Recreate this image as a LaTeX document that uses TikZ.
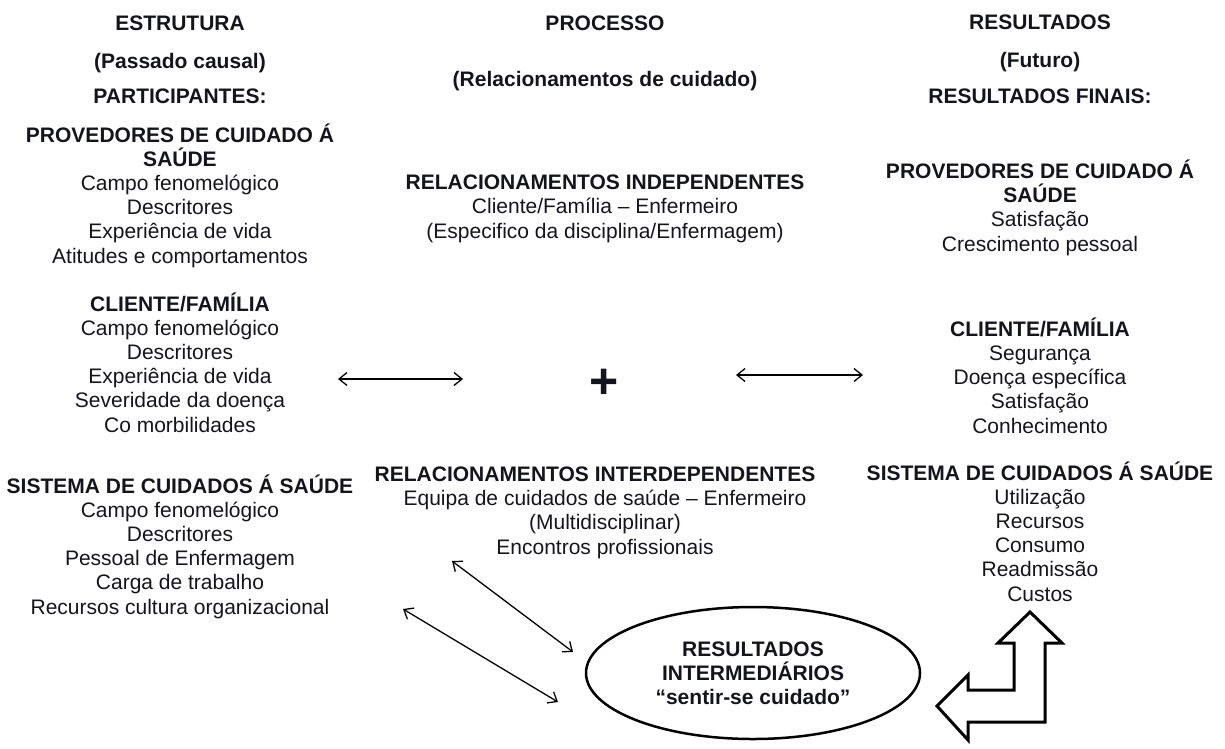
\documentclass[tikz,border=0pt]{standalone}
\usepackage{fontspec}
\setmainfont{Liberation Sans}
\usepackage{xcolor}
\usepackage{tikz}
\usetikzlibrary{arrows.meta}
\usetikzlibrary{shapes.geometric}
\definecolor{inkblack}{RGB}{20, 20, 30}

\begin{document}
\begin{tikzpicture}[x=1pt, y=-1pt, text=inkblack,
            head/.style = {font=\fontsize{21}{24.2}\selectfont\bfseries, align=center, anchor=base, inner sep=0pt},
            item/.style = {font=\fontsize{21}{24.2}\selectfont, align=center, anchor=base, inner sep=0pt},
            link/.style = {{Straight Barb[length=8pt,width=13pt]}-{Straight Barb[length=8pt,width=13pt]}, draw=black, line width=1.3pt}]
        \useasboundingbox (0,0) rectangle (1225,748);

        % Estrutura (blocks placed by the baseline of their last line)
        \node[head] (estr) at (180,30) {ESTRUTURA};
        \node[head] (passado) at (180,68) {(Passado causal)};
        \node[head] (part) at (180,103) {PARTICIPANTES:};
        \node[item] (prov) at (180,263) {\textbf{PROVEDORES DE CUIDADO Á}\\\textbf{SAÚDE}\\Campo fenomelógico\\Descritores\\Experiência de vida\\Atitudes e comportamentos};
        \node[item] (cli) at (180,432) {\textbf{CLIENTE/FAMÍLIA}\\Campo fenomelógico\\Descritores\\Experiência de vida\\Severidade da doença\\Co morbilidades};
        \node[item] (sis) at (180,614) {\textbf{SISTEMA DE CUIDADOS Á SAÚDE}\\Campo fenomelógico\\Descritores\\Pessoal de Enfermagem\\Carga de trabalho\\Recursos cultura organizacional};

        % Processo
        \node[head] (proc) at (605,30) {PROCESSO};
        \node[head] (relcui) at (605,86) {(Relacionamentos de cuidado)};
        \node[item] (indep) at (605,238) {\textbf{RELACIONAMENTOS INDEPENDENTES}\\Cliente/Família – Enfermeiro\\(Especifico da disciplina/Enfermagem)};
        \node[font=\fontsize{50}{50}\selectfont\bfseries, inner sep=0pt] (mais) at (604,384) {+};
        \node[head] (interdep) at (595,481) {RELACIONAMENTOS INTERDEPENDENTES};
        \node[item] (equipa) at (605,554) {Equipa de cuidados de saúde – Enfermeiro\\(Multidisciplinar)\\Encontros profissionais};

        % Resultados
        \node[head] (res) at (1040,29) {RESULTADOS};
        \node[head] (fut) at (1040,67) {(Futuro)};
        \node[head] (resfin) at (1040,103) {RESULTADOS FINAIS:};
        \node[item] (provr) at (1040,251) {\textbf{PROVEDORES DE CUIDADO Á}\\\textbf{SAÚDE}\\Satisfação\\Crescimento pessoal};
        \node[item] (clir) at (1040,433) {\textbf{CLIENTE/FAMÍLIA}\\Segurança\\Doença específica\\Satisfação\\Conhecimento};
        \node[item] (sisr) at (1040,601) {\textbf{SISTEMA DE CUIDADOS Á SAÚDE}\\Utilização\\Recursos\\Consumo\\Readmissão\\Custos};

        \node[draw=black, ellipse, line width=2.5pt, minimum width=334pt, minimum height=132pt, align=center, inner sep=0pt,
              font=\fontsize{21}{24.2}\selectfont\bfseries] (interm) at (753,673) {RESULTADOS\\INTERMEDIÁRIOS\\“sentir-se cuidado”};

        \coordinate (la1) at (338,379); \coordinate (la2) at (463,379);
        \coordinate (ra1) at (736,375); \coordinate (ra2) at (863,375);
        \coordinate (da1) at (452,561); \coordinate (da2) at (573,652);
        \coordinate (db1) at (403,609); \coordinate (db2) at (558,702);
        \draw[link] (la1) -- (la2);
        \draw[link] (ra1) -- (ra2);
        \draw[link] (da1) -- (da2);
        \draw[link] (db1) -- (db2);

        % bent block arrow
        \draw[line width=3pt, line join=miter, fill=white] (1030,612) -- (1062,643) -- (1045,643) -- (1045,722) -- (968,722)
              -- (968,740) -- (937,706) -- (968,675) -- (968,690) -- (1014,690) -- (1014,643) -- (998,643) -- cycle;
        \end{tikzpicture}
\end{document}
